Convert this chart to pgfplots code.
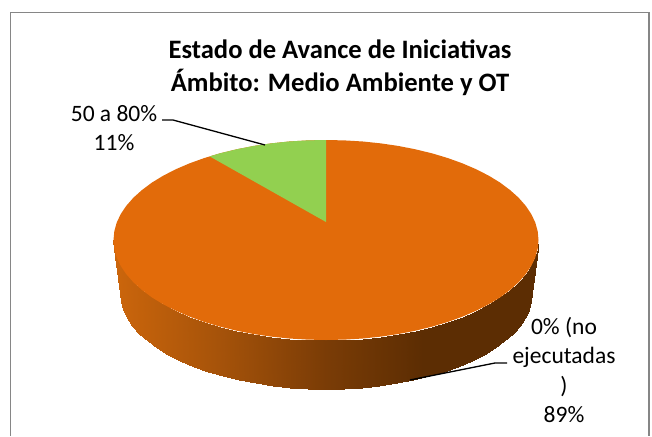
\documentclass[border=0pt]{standalone}
\usepackage{fontspec}
\setmainfont{Carlito}
\usepackage{pgfplots}
\usepackage{pgfplotstable}
\pgfplotsset{compat=1.18}
\definecolor{pieorange}{RGB}{226,107,10}
\definecolor{piegreen}{RGB}{146,208,80}
\definecolor{framegray}{RGB}{134,134,134}
\begin{document}
\begin{tikzpicture}
\path[use as bounding box] (0,0) rectangle (652pt,436pt);
\begin{axis}[
  at={(0,0)}, anchor=south west,
  scale only axis, width=652pt, height=436pt,
  xmin=0, xmax=652, ymin=0, ymax=436, y dir=reverse,
  axis lines=none, clip=false,
  point meta min=113, point meta max=539,
  colormap={side}{
    rgb255(0pt)=(204,102,12);
    rgb255(100pt)=(168,84,10);
    rgb255(213pt)=(122,60,6);
    rgb255(310pt)=(92,45,3);
    rgb255(426pt)=(92,45,3)
  },
]
% frame
\addplot[framegray, line width=1.6pt] coordinates {(10.5,436) (10.5,12.5) (649,12.5) (649,436)};
% side of the pie
\addplot[patch, patch type=rectangle, shader=interp, point meta=x, table/row sep=\\,
 patch table={0 1 38 37\\ 1 2 39 38\\ 2 3 40 39\\ 3 4 41 40\\ 4 5 42 41\\ 5 6 43 42\\ 6 7 44 43\\ 7 8 45 44\\ 8 9 46 45\\ 9 10 47 46\\ 10 11 48 47\\ 11 12 49 48\\ 12 13 50 49\\ 13 14 51 50\\ 14 15 52 51\\ 15 16 53 52\\ 16 17 54 53\\ 17 18 55 54\\ 18 19 56 55\\ 19 20 57 56\\ 20 21 58 57\\ 21 22 59 58\\ 22 23 60 59\\ 23 24 61 60\\ 24 25 62 61\\ 25 26 63 62\\ 26 27 64 63\\ 27 28 65 64\\ 28 29 66 65\\ 29 30 67 66\\ 30 31 68 67\\ 31 32 69 68\\ 32 33 70 69\\ 33 34 71 70\\ 34 35 72 71\\ 35 36 73 72\\}] table {
x y\\
538.5 240\\
537.7 248.7\\
535.3 257.4\\
531.3 265.9\\
525.7 274.2\\
518.6 282.3\\
510 290\\
500.1 297.4\\
488.8 304.3\\
476.3 310.7\\
462.6 316.6\\
447.9 321.9\\
432.3 326.6\\
415.8 330.6\\
398.7 334\\
381 336.6\\
362.9 338.5\\
344.5 339.6\\
326 340\\
307.5 339.6\\
289.1 338.5\\
271 336.6\\
253.3 334\\
236.2 330.6\\
219.7 326.6\\
204.1 321.9\\
189.4 316.6\\
175.7 310.7\\
163.2 304.3\\
151.9 297.4\\
142 290\\
133.4 282.3\\
126.3 274.2\\
120.7 265.9\\
116.7 257.4\\
114.3 248.7\\
113.5 240\\
532 293\\
531.2 301.4\\
528.9 309.7\\
525 317.8\\
519.6 325.8\\
512.7 333.6\\
504.4 341\\
494.8 348.1\\
483.8 354.7\\
471.7 360.9\\
458.4 366.5\\
444.2 371.6\\
429 376.1\\
413.1 380\\
396.5 383.2\\
379.3 385.7\\
361.8 387.5\\
344 388.6\\
326 389\\
308 388.6\\
290.2 387.5\\
272.7 385.7\\
255.5 383.2\\
238.9 380\\
223 376.1\\
207.8 371.6\\
193.6 366.5\\
180.3 360.9\\
168.2 354.7\\
157.2 348.1\\
147.6 341\\
139.3 333.6\\
132.4 325.8\\
127 317.8\\
123.1 309.7\\
120.8 301.4\\
120 293\\
};
% top face: 89 %
\addplot[fill=pieorange, draw=none] coordinates {
(538.5,240) (537.7,248.7) (535.3,257.4) (531.3,265.9) (525.7,274.2) (518.6,282.3) (510,290) (500.1,297.4) (488.8,304.3) (476.3,310.7) (462.6,316.6) (447.9,321.9) (432.3,326.6) (415.8,330.6) (398.7,334) (381,336.6) (362.9,338.5) (344.5,339.6) (326,340)
(307.5,339.6) (289.1,338.5) (271,336.6) (253.3,334) (236.2,330.6) (219.7,326.6) (204.1,321.9) (189.4,316.6) (175.7,310.7) (163.2,304.3) (151.9,297.4) (142,290) (133.4,282.3) (126.3,274.2) (120.7,265.9) (116.7,257.4) (114.3,248.7) (113.5,240)
(114.3,231.3) (116.7,222.6) (120.7,214.1) (126.3,205.8) (133.4,197.7) (142,190) (151.9,182.6) (163.2,175.7) (175.7,169.3) (189.4,163.4) (204.1,158.1) (219.7,153.4) (236.2,149.4) (253.3,146) (271,143.4) (289.1,141.5) (307.5,140.4) (326,140)
(344.5,140.4) (362.9,141.5) (381,143.4) (398.7,146) (415.8,149.4) (432.3,153.4) (447.9,158.1) (462.6,163.4) (476.3,169.3) (488.8,175.7) (500.1,182.6) (510,190) (518.6,197.7) (525.7,205.8) (531.3,214.1) (535.3,222.6) (537.7,231.3) (538.5,240)
} -- cycle;
% top face: 11 %
\addplot[fill=piegreen, draw=none] coordinates {
(326,222) (209.7,156.4) (219.7,153.4) (236.2,149.4) (253.3,146) (271,143.4) (289.1,141.5) (307.5,140.4) (326,140)
} -- cycle;
% leader lines
\addplot[black, line width=1.3pt] coordinates {(162,120) (173,120) (265,145)};
\addplot[black, line width=1.3pt] coordinates {(507,363) (495,363) (410,380)};
% text
\node[font=\fontsize{26.6}{30}\selectfont\bfseries, align=center] at (axis cs:340,49) {Estado de Avance de Iniciativas};
\node[font=\fontsize{26.6}{30}\selectfont\bfseries, align=center] at (axis cs:340,82) {Ámbito: Medio Ambiente y OT};
\node[font=\fontsize{23.5}{28}\selectfont] at (axis cs:114,114) {50 a 80\%};
\node[font=\fontsize{23.5}{28}\selectfont] at (axis cs:114,143) {11\%};
\node[font=\fontsize{23.5}{28}\selectfont] at (axis cs:564,328) {0\% (no};
\node[font=\fontsize{23.5}{28}\selectfont] at (axis cs:564,357) {ejecutadas};
\node[font=\fontsize{23.5}{28}\selectfont] at (axis cs:564,387) {)};
\node[font=\fontsize{23.5}{28}\selectfont] at (axis cs:564,415) {89\%};
\end{axis}
\end{tikzpicture}
\end{document}
